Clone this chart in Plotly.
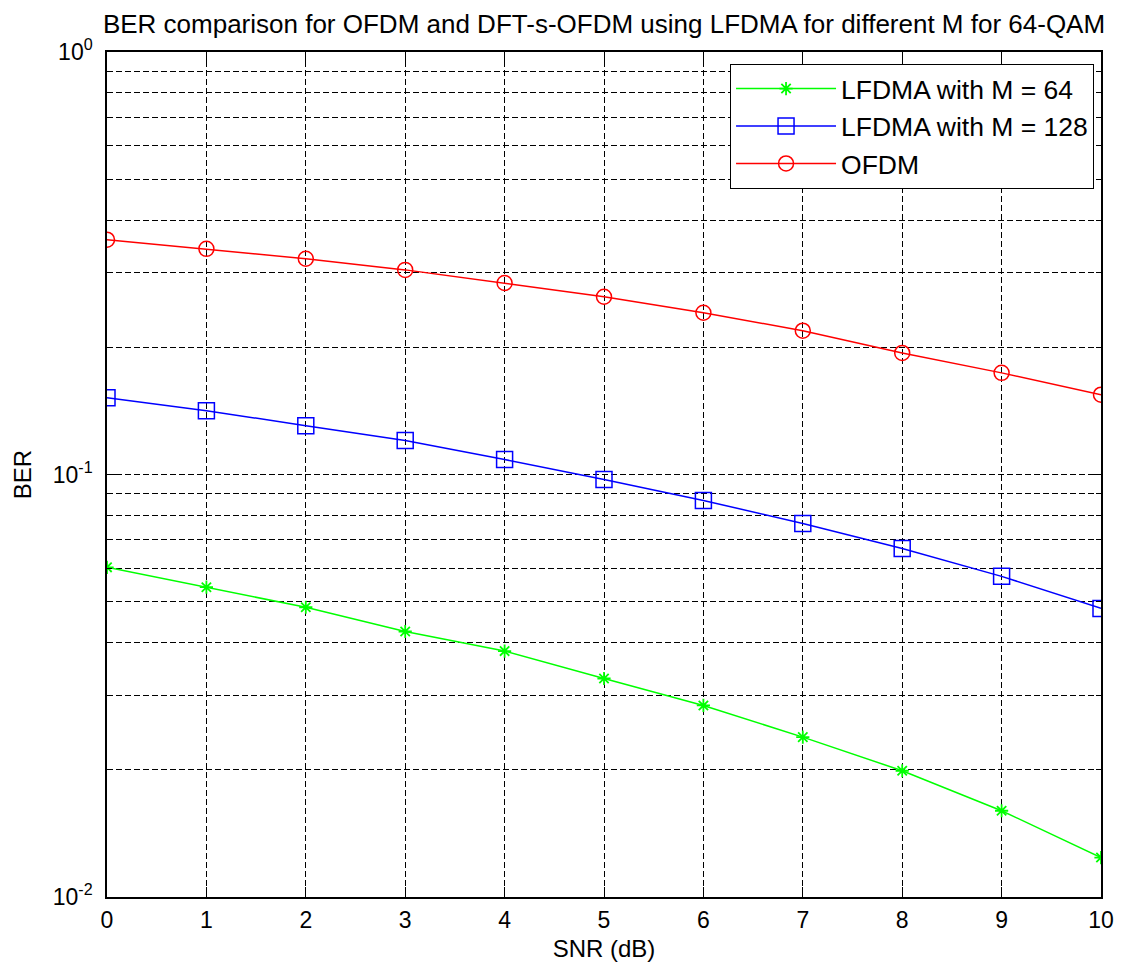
import plotly.graph_objects as go

snr = [0, 1, 2, 3, 4, 5, 6, 7, 8, 9, 10]
ber_m64 = [0.0603, 0.0541, 0.0485, 0.0425, 0.0382, 0.0329, 0.0284, 0.0239, 0.0199, 0.0160, 0.0124]
ber_m128 = [0.152, 0.1416, 0.1305, 0.1203, 0.1085, 0.0973, 0.0868, 0.0766, 0.0668, 0.0574, 0.0482]
ber_ofdm = [0.3596, 0.342, 0.324, 0.305, 0.284, 0.2635, 0.2415, 0.219, 0.194, 0.174, 0.1545]

y_major = [0.01, 0.1, 1]
y_major_text = ["10<sup>-2</sup>", "10<sup>-1</sup>", "10<sup>0</sup>"]
y_minor = [m * d for d in (0.01, 0.1) for m in range(2, 10)]

FONT = "Liberation Sans, Arial, sans-serif"
DASH = "6px,3px"

fig = go.Figure()
fig.add_trace(go.Scatter(x=snr, y=ber_m64, mode="lines+markers", name="LFDMA with M = 64",
                         line=dict(color="#00FF00", width=1.5),
                         marker=dict(symbol="asterisk-open", size=11, line=dict(color="#00FF00", width=1.8))))
fig.add_trace(go.Scatter(x=snr, y=ber_m128, mode="lines+markers", name="LFDMA with M = 128",
                         line=dict(color="#0000FF", width=1.5),
                         marker=dict(symbol="square-open", size=16, color="#0000FF", line=dict(width=1.5))))
fig.add_trace(go.Scatter(x=snr, y=ber_ofdm, mode="lines+markers", name="OFDM",
                         line=dict(color="#FF0000", width=1.5),
                         marker=dict(symbol="circle-open", size=15, color="#FF0000", line=dict(width=1.5))))

fig.update_layout(
    width=1126, height=971,
    margin=dict(l=107, r=18, t=52, b=74),
    paper_bgcolor="white", plot_bgcolor="white",
    font=dict(family=FONT, size=23, color="black"),
    title=dict(text="BER comparison for OFDM and DFT-s-OFDM using LFDMA for different M for 64-QAM",
               x=0.5, xref="paper", xanchor="center", y=1 - 24 / 971, yanchor="middle",
               font=dict(size=26, family=FONT)),
    showlegend=True,
    legend=dict(x=0.993, y=0.986, xanchor="right", yanchor="top",
                bgcolor="white", bordercolor="black", borderwidth=1,
                font=dict(size=26.5, family=FONT), itemwidth=100, tracegroupgap=2),
)
fig.update_xaxes(
    range=[0, 10], tickmode="array", tickvals=snr, ticktext=[str(v) for v in snr],
    showline=True, linecolor="black", linewidth=1.5, mirror="ticks",
    ticks="inside", ticklen=10, tickcolor="black", tickwidth=1,
    showgrid=True, gridcolor="black", griddash=DASH, gridwidth=1,
    zeroline=False, title=dict(text="SNR (dB)", standoff=8, font=dict(size=24)),
    tickfont=dict(size=23), ticklabelstandoff=2,
)
fig.update_yaxes(
    type="log", range=[-2, 0], tickmode="array", tickvals=y_major, ticktext=y_major_text,
    showline=True, linecolor="black", linewidth=1.5, mirror="ticks",
    ticks="inside", ticklen=10, tickcolor="black", tickwidth=1,
    showgrid=True, gridcolor="black", griddash=DASH, gridwidth=1,
    minor=dict(tickmode="array", tickvals=y_minor, ticks="inside", ticklen=5, tickcolor="black",
               showgrid=True, gridcolor="black", griddash=DASH, gridwidth=1),
    zeroline=False, title=dict(text="BER", standoff=14, font=dict(size=24)),
    tickfont=dict(size=23), ticklabelstandoff=8,
)

fig.write_html("out.html")
